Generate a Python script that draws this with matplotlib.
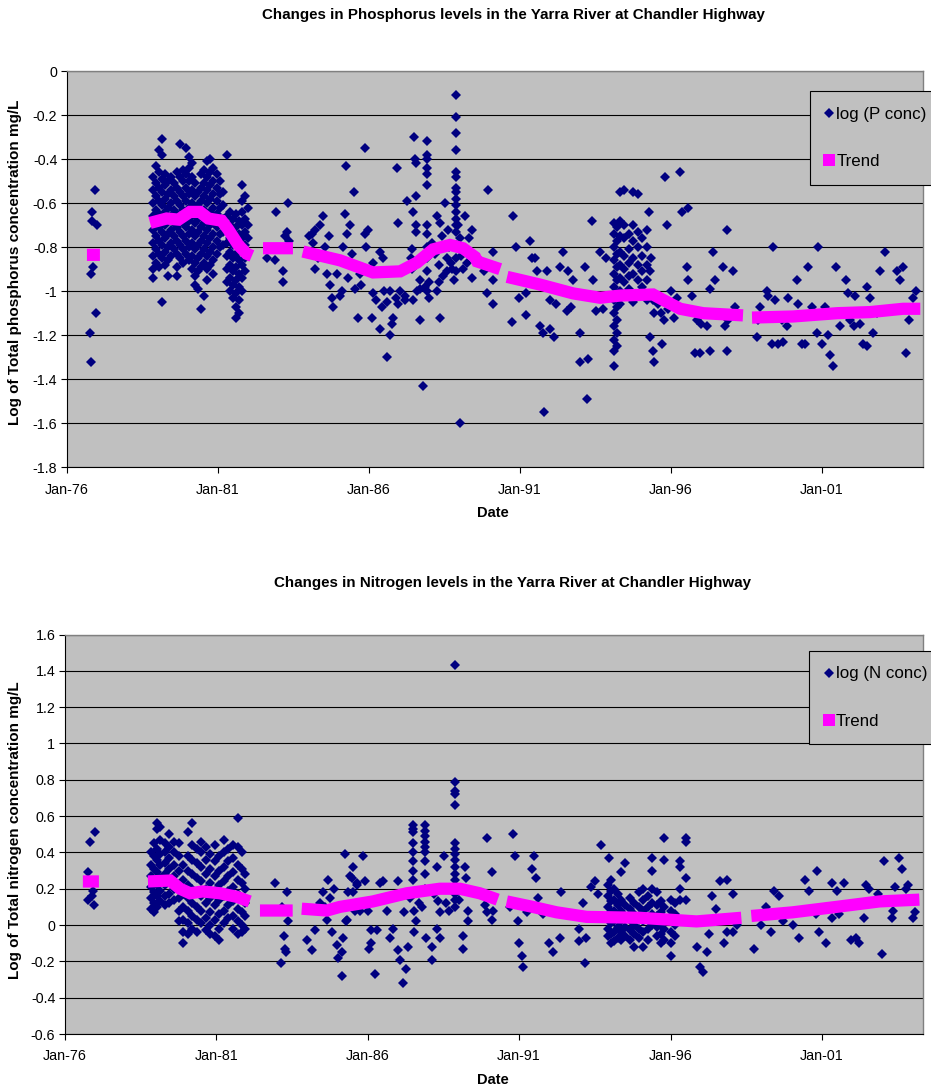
import matplotlib
matplotlib.use("Agg")
import matplotlib.pyplot as plt
from matplotlib.lines import Line2D
import numpy as np

# ---------------- data: phosphorus ----------------
nan = float("nan")

p_early = [(1976.93, -0.54), (1976.83, -0.64), (1976.83, -0.68), (1976.99, -0.70),
           (1976.86, -0.89), (1976.79, -0.92), (1976.96, -1.10), (1976.76, -1.19),
           (1976.79, -1.32)]

# dense 1979-82 samples, one column of values per date
p_col_dates = [1978.85, 1978.95, 1979.05, 1979.15, 1979.25, 1979.35, 1979.45, 1979.55,
               1979.65, 1979.75, 1979.85, 1979.95, 1980.05, 1980.15, 1980.25, 1980.35,
               1980.45, 1980.55, 1980.65, 1980.75, 1980.85, 1980.95, 1981.05, 1981.15,
               1981.3, 1981.4, 1981.5, 1981.6, 1981.7, 1981.8, 1981.9, 1982.0]
p_col_vals = [
    [-0.48, -0.54, -0.60, -0.66, -0.72, -0.78, -0.84, -0.90, -0.94],
    [-0.43, -0.51, -0.57, -0.63, -0.69, -0.75, -0.81, -0.87],
    [-0.36, -0.46, -0.53, -0.59, -0.65, -0.71, -0.77, -0.83, -0.89],
    [-0.31, -0.38, -0.49, -0.55, -0.61, -0.67, -0.73, -0.79, -0.85, -1.05],
    [-0.47, -0.52, -0.58, -0.64, -0.70, -0.76, -0.82, -0.88],
    [-0.50, -0.56, -0.62, -0.68, -0.74, -0.80, -0.86, -0.93],
    [-0.48, -0.54, -0.60, -0.66, -0.72, -0.78, -0.84],
    [-0.51, -0.57, -0.63, -0.69, -0.75, -0.81],
    [-0.46, -0.53, -0.59, -0.65, -0.71, -0.77, -0.83, -0.89, -0.93],
    [-0.33, -0.48, -0.55, -0.61, -0.67, -0.73, -0.79, -0.85],
    [-0.45, -0.50, -0.57, -0.63, -0.69, -0.75, -0.81, -0.87],
    [-0.35, -0.47, -0.53, -0.59, -0.65, -0.71, -0.77, -0.83],
    [-0.39, -0.44, -0.50, -0.56, -0.62, -0.68, -0.74, -0.80, -0.86],
    [-0.42, -0.48, -0.54, -0.60, -0.66, -0.72, -0.78, -0.84, -0.90],
    [-0.51, -0.57, -0.63, -0.69, -0.75, -0.81, -0.87, -0.93, -0.97],
    [-0.55, -0.61, -0.67, -0.73, -0.79, -0.85, -0.91, -0.99],
    [-0.47, -0.53, -0.59, -0.65, -0.71, -0.77, -0.83, -0.89, -1.08],
    [-0.45, -0.51, -0.57, -0.63, -0.69, -0.75, -0.81, -0.87, -1.02],
    [-0.41, -0.48, -0.54, -0.60, -0.66, -0.72, -0.78, -0.84, -0.90, -0.95],
    [-0.40, -0.46, -0.52, -0.58, -0.64, -0.70, -0.76, -0.82, -0.88],
    [-0.44, -0.50, -0.56, -0.62, -0.68, -0.74, -0.80, -0.86, -0.92],
    [-0.47, -0.53, -0.59, -0.65, -0.71, -0.77, -0.83],
    [-0.50, -0.56, -0.62, -0.68, -0.74, -0.80],
    [-0.55, -0.61, -0.67, -0.73, -0.79],
    [-0.38, -0.66, -0.72, -0.78, -0.84, -0.90, -0.96],
    [-0.64, -0.70, -0.76, -0.82, -0.88, -0.94, -1.00],
    [-0.67, -0.73, -0.79, -0.85, -0.91, -0.97, -1.03],
    [-0.65, -0.71, -0.77, -0.83, -0.89, -0.95, -1.01, -1.07, -1.12],
    [-0.68, -0.74, -0.80, -0.86, -0.92, -0.98, -1.04, -1.10],
    [-0.52, -0.59, -0.64, -0.70, -0.76, -0.82, -0.88, -0.94, -1.00],
    [-0.57, -0.67, -0.73, -0.79, -0.85, -0.91],
    [-0.62, -0.70, -0.76, -0.82],
]

p_mid = [(1982.62, -0.85), (1982.92, -0.64), (1982.89, -0.86), (1983.15, -0.96),
         (1983.15, -0.91), (1983.32, -0.60), (1983.28, -0.73), (1983.22, -0.75),
         (1983.35, -0.77), (1984.0, -0.75), (1984.11, -0.74), (1984.15, -0.78),
         (1984.2, -0.72), (1984.48, -0.66), (1984.38, -0.70), (1984.21, -0.90),
         (1984.3, -0.85), (1984.61, -0.92), (1984.71, -0.97), (1984.77, -1.03),
         (1984.81, -1.07), (1984.68, -0.75), (1984.55, -0.80), (1984.94, -0.92),
         (1985.11, -1.00), (1985.05, -1.02), (1985.21, -0.65), (1985.24, -0.43),
         (1985.14, -0.80), (1985.27, -0.74), (1985.37, -0.70), (1985.50, -0.55),
         (1985.44, -0.83), (1985.30, -0.94), (1985.54, -0.99), (1985.64, -1.12),
         (1985.87, -0.35), (1985.87, -0.74), (1985.95, -0.72), (1985.9, -0.80),
         (1985.7, -0.92), (1985.75, -0.97), (1986.1, -1.12), (1986.13, -0.87),
         (1986.13, -1.01), (1986.23, -1.04), (1986.36, -0.82), (1986.45, -0.85),
         (1986.43, -1.07), (1986.36, -1.17), (1986.6, -1.30), (1986.7, -1.20),
         (1986.75, -1.15), (1986.8, -1.12), (1986.5, -1.00), (1986.7, -1.00),
         (1986.93, -0.44), (1986.96, -0.69), (1987.03, -1.00), (1986.96, -1.06),
         (1987.19, -1.04), (1987.26, -0.59), (1987.46, -0.64), (1987.56, -0.57),
         (1987.5, -0.30), (1987.52, -0.40), (1987.56, -0.42), (1987.56, -0.70),
         (1987.56, -0.73), (1987.42, -0.81), (1987.38, -0.85), (1987.42, -0.90),
         (1987.46, -1.04), (1987.69, -1.13), (1987.79, -1.43), (1987.69, -0.95),
         (1987.92, -0.32), (1987.92, -0.38), (1987.92, -0.40), (1987.92, -0.44),
         (1987.92, -0.47), (1987.92, -0.52), (1987.92, -0.70), (1987.92, -0.74),
         (1987.92, -0.80), (1987.92, -0.85), (1987.92, -0.91), (1987.92, -1.00),
         (1988.0, -1.03), (1988.25, -0.66), (1988.25, -1.00), (1988.35, -1.12),
         (1988.35, -0.69), (1988.52, -0.60), (1988.57, -0.85), (1988.57, -0.91),
         (1988.1, -0.78), (1988.2, -0.83), (1988.3, -0.88), (1988.4, -0.75),
         (1988.45, -0.93), (1988.6, -0.72), (1988.65, -0.80), (1988.7, -0.87),
         (1988.75, -0.90), (1988.8, -0.95), (1988.95, -0.70), (1989.0, -0.76),
         (1989.05, -0.84), (1989.1, -0.90), (1988.3, -0.96), (1988.0, -0.96),
         (1987.85, -0.98), (1987.7, -0.99), (1987.6, -1.00), (1987.2, -1.02),
         (1986.9, -1.03), (1986.6, -1.05),
         (1988.88, -0.11), (1988.88, -0.21), (1988.88, -0.28), (1988.88, -0.36),
         (1988.88, -0.46), (1988.88, -0.48), (1988.88, -0.53), (1988.88, -0.55),
         (1988.88, -0.58), (1988.88, -0.61), (1988.88, -0.64), (1988.88, -0.67),
         (1988.88, -0.70), (1988.88, -0.73), (1988.88, -0.79), (1988.88, -0.85),
         (1988.88, -0.91), (1989.01, -1.60), (1989.18, -0.66), (1989.41, -0.72),
         (1989.3, -0.76), (1989.25, -0.87), (1989.41, -0.94), (1989.94, -0.54),
         (1989.8, -0.91), (1989.91, -1.01), (1990.11, -1.06), (1990.11, -0.82),
         (1990.11, -0.95), (1990.77, -0.66), (1990.74, -1.14), (1990.85, -0.80),
         (1990.97, -1.03), (1991.2, -1.01), (1991.2, -1.11), (1991.33, -0.77),
         (1991.4, -0.85), (1991.5, -0.85), (1991.55, -0.91), (1991.66, -1.16),
         (1991.75, -1.19), (1991.79, -1.55), (1991.88, -0.91), (1991.99, -1.04),
         (1992.0, -1.17), (1992.13, -1.21), (1992.32, -0.89), (1992.42, -0.82),
         (1992.2, -1.06), (1992.55, -1.09), (1992.6, -0.91), (1992.7, -1.07),
         (1992.75, -0.95), (1992.99, -1.19), (1992.99, -1.32), (1993.25, -1.31),
         (1993.22, -1.49), (1993.15, -0.89), (1993.38, -0.68), (1993.41, -0.95),
         (1993.52, -1.09), (1993.65, -0.82), (1993.75, -1.08), (1993.85, -0.85)]

p_col2_dates = [1994.1, 1994.2, 1994.3, 1994.45, 1994.6, 1994.75, 1994.9, 1995.05, 1995.2]
p_col2_vals = [
    [-0.69, -0.74, -0.80, -0.86, -0.92, -0.98, -1.04, -1.10, -1.16, -1.22, -1.27, -1.34],
    [-0.71, -0.77, -0.83, -0.89, -0.95, -1.01, -1.07, -1.13, -1.19, -1.25],
    [-0.55, -0.68, -0.75, -0.82, -0.88, -0.94, -1.00, -1.06],
    [-0.54, -0.70, -0.76, -0.84, -0.90, -0.96, -1.02],
    [-0.74, -0.81, -0.87, -0.93, -0.99],
    [-0.55, -0.70, -0.77, -0.85, -0.92, -1.05],
    [-0.56, -0.73, -0.80, -0.88, -0.95, -1.02],
    [-0.76, -0.84, -0.91, -0.98],
    [-0.72, -0.80, -0.88, -0.95, -1.04],
]

p_late = [(1995.28, -0.64), (1995.3, -1.21), (1995.4, -1.27), (1995.45, -1.32),
          (1995.45, -1.10), (1995.4, -1.04), (1995.35, -0.85), (1995.3, -0.91),
          (1995.8, -0.48), (1996.28, -0.46), (1995.86, -0.70), (1996.35, -0.64),
          (1996.57, -0.62), (1995.7, -1.24), (1995.55, -1.06), (1995.65, -1.10),
          (1995.75, -1.13), (1995.9, -1.08), (1996.0, -1.00), (1996.1, -1.12),
          (1996.2, -1.03), (1996.52, -0.89), (1996.57, -0.95), (1996.68, -1.02),
          (1996.85, -1.13), (1996.79, -1.28), (1996.95, -1.28), (1997.0, -1.15),
          (1997.18, -1.16), (1997.29, -1.27), (1997.29, -0.99), (1997.46, -0.95),
          (1997.39, -0.82), (1997.72, -0.89), (1997.85, -0.72), (1998.05, -0.91),
          (1997.79, -1.16), (1997.85, -1.27), (1997.9, -1.13), (1998.12, -1.07),
          (1998.84, -1.21), (1998.95, -1.07), (1998.88, -1.13), (1999.17, -1.00),
          (1999.2, -1.02), (1999.38, -0.80), (1999.33, -1.24), (1999.54, -1.24),
          (1999.71, -1.23), (1999.44, -1.04), (1999.66, -1.13), (1999.87, -1.03),
          (1999.83, -1.16), (2000.16, -0.95), (2000.2, -1.06), (2000.33, -1.24),
          (2000.44, -1.24), (2000.54, -0.89), (2000.66, -1.07), (2000.82, -1.19),
          (2000.88, -0.80), (2000.99, -1.24), (2001.1, -1.07), (2001.21, -1.20),
          (2001.26, -1.29), (2001.37, -1.34), (2001.46, -0.89), (2001.6, -1.16),
          (2001.65, -1.10), (2001.79, -0.95), (2001.87, -1.01), (2001.93, -1.13),
          (2002.04, -1.16), (2002.09, -1.02), (2002.26, -1.15), (2002.37, -1.24),
          (2002.48, -1.25), (2002.49, -0.98), (2002.59, -1.03), (2002.7, -1.19),
          (2002.92, -0.91), (2003.09, -0.82), (2002.81, -1.10), (2003.47, -0.91),
          (2003.67, -0.89), (2003.58, -0.95), (2003.78, -1.28), (2003.89, -1.13),
          (2004.02, -1.03), (2004.11, -1.00)]

p_trend_x = [1976.66, 1977.09, nan,
             1978.75, 1979.3, 1979.69, 1980.07, 1980.4, 1980.68, 1981.12, 1981.34,
             1981.67, 1981.95, 1982.12, nan,
             1982.49, 1983.48, nan,
             1983.81, 1985.04, 1986.13, 1987.03, 1987.59, 1988.12, 1988.68, 1989.11,
             1989.51, 1989.58, 1990.34, nan,
             1990.57, 1991.66, 1992.75, 1993.65, 1994.31, 1995.4, 1995.74, 1996.3,
             1997.06, 1998.38, nan,
             1998.68, 2000.04, 2001.5, 2002.59, 2003.68, 2004.25]
p_trend_y = [-0.835, -0.835, nan,
             -0.69, -0.67, -0.675, -0.64, -0.64, -0.67, -0.68, -0.72,
             -0.79, -0.83, -0.84, nan,
             -0.805, -0.805, nan,
             -0.82, -0.86, -0.915, -0.91, -0.87, -0.81, -0.79, -0.805,
             -0.845, -0.865, -0.90, nan,
             -0.935, -0.97, -1.01, -1.03, -1.02, -1.015, -1.04, -1.08,
             -1.10, -1.11, nan,
             -1.12, -1.115, -1.10, -1.095, -1.08, -1.08]

# ---------------- data: nitrogen ----------------
n_early = [(1976.99, 0.51), (1976.83, 0.46), (1976.76, 0.29), (1976.76, 0.14),
           (1976.92, 0.19), (1976.96, 0.11), (1976.88, 0.16)]

n_col_dates = [1978.85, 1978.95, 1979.05, 1979.15, 1979.3, 1979.45, 1979.6, 1979.75,
               1979.9, 1980.05, 1980.2, 1980.35, 1980.5, 1980.65, 1980.8, 1980.95,
               1981.1, 1981.25, 1981.4, 1981.55, 1981.7, 1981.85, 1981.95]
n_col_vals = [
    [0.40, 0.33, 0.27, 0.21, 0.15, 0.09],
    [0.45, 0.38, 0.31, 0.25, 0.18, 0.12, 0.07],
    [0.56, 0.53, 0.42, 0.36, 0.29, 0.22, 0.16, 0.10],
    [0.54, 0.47, 0.39, 0.33, 0.26, 0.19, 0.13],
    [0.45, 0.40, 0.34, 0.28, 0.22, 0.16, 0.11],
    [0.50, 0.43, 0.37, 0.31, 0.24, 0.17, 0.12],
    [0.46, 0.40, 0.33, 0.27, 0.20, 0.14],
    [0.45, 0.38, 0.30, 0.22, 0.15, 0.08, 0.02],
    [0.33, 0.25, 0.17, 0.10, 0.03, -0.04, -0.10],
    [0.51, 0.38, 0.30, 0.22, 0.15, 0.08, 0.01, -0.05],
    [0.56, 0.44, 0.36, 0.28, 0.20, 0.12, 0.05, -0.02],
    [0.42, 0.34, 0.26, 0.18, 0.10, 0.03, -0.04],
    [0.46, 0.40, 0.32, 0.24, 0.16, 0.08, 0.01],
    [0.43, 0.36, 0.28, 0.20, 0.12, 0.04, -0.03],
    [0.39, 0.31, 0.23, 0.15, 0.07, 0.00, -0.05],
    [0.44, 0.35, 0.27, 0.19, 0.11, 0.03, -0.06],
    [0.38, 0.30, 0.22, 0.14, 0.06, -0.02, -0.08],
    [0.47, 0.40, 0.32, 0.24, 0.16, 0.08, 0.01],
    [0.42, 0.35, 0.27, 0.19, 0.11, 0.04],
    [0.44, 0.37, 0.29, 0.21, 0.13, 0.05, -0.02],
    [0.59, 0.43, 0.33, 0.25, 0.17, 0.09, 0.02, -0.05],
    [0.40, 0.31, 0.23, 0.15, 0.07, 0.00, -0.04],
    [0.28, 0.20, 0.12, 0.05, -0.02],
]

n_mid = [(1982.93, 0.23), (1983.16, 0.10), (1983.33, 0.18), (1983.36, 0.02),
         (1983.23, -0.06), (1983.26, -0.13), (1983.29, -0.15), (1983.13, -0.21),
         (1983.99, -0.08), (1984.15, -0.14), (1984.25, -0.03), (1984.42, 0.12),
         (1984.51, 0.18), (1984.68, 0.25), (1984.65, 0.03), (1984.81, -0.04),
         (1984.98, -0.11), (1985.01, -0.18), (1985.14, -0.28), (1985.17, -0.07),
         (1985.24, 0.39), (1985.31, 0.03), (1985.34, 0.18), (1985.5, 0.32),
         (1985.47, 0.26), (1985.64, 0.23), (1984.6, 0.10), (1984.75, 0.15),
         (1984.9, 0.20), (1985.14, -0.15), (1985.29, 0.02), (1985.41, 0.27),
         (1985.52, 0.18), (1985.63, 0.22), (1985.57, 0.08), (1985.84, 0.38),
         (1985.9, 0.24), (1985.74, 0.08), (1986.0, 0.08), (1986.1, -0.03),
         (1986.3, -0.03), (1986.05, -0.13), (1986.1, -0.10), (1986.23, -0.27),
         (1986.4, 0.23), (1986.5, 0.24), (1986.63, 0.08), (1986.73, -0.07),
         (1986.82, -0.02), (1986.99, 0.24), (1986.99, -0.14), (1987.05, -0.19),
         (1987.16, -0.32), (1987.25, -0.24), (1987.2, 0.07), (1987.32, -0.12),
         (1987.49, 0.55), (1987.49, 0.53), (1987.49, 0.51), (1987.49, 0.45),
         (1987.49, 0.40), (1987.49, 0.35), (1987.49, 0.30), (1987.49, 0.25),
         (1987.54, 0.08), (1987.54, -0.04), (1987.6, 0.02), (1987.4, 0.15),
         (1987.7, 0.12), (1987.88, 0.55), (1987.88, 0.52), (1987.88, 0.49),
         (1987.88, 0.46), (1987.88, 0.43), (1987.88, 0.40), (1987.88, 0.35),
         (1987.88, 0.28), (1987.88, 0.20), (1987.8, 0.10), (1987.94, -0.07),
         (1988.11, -0.12), (1988.11, -0.19), (1988.28, 0.32), (1988.33, 0.13),
         (1988.38, 0.07), (1988.28, -0.02), (1988.38, -0.07), (1988.51, 0.38),
         (1988.2, 0.17), (1988.6, 0.12), (1988.7, 0.08), (1989.0, 0.14),
         (1988.87, 1.43), (1988.87, 0.79), (1988.87, 0.74), (1988.87, 0.72),
         (1988.87, 0.66), (1988.87, 0.45), (1988.87, 0.42), (1988.87, 0.39),
         (1988.87, 0.36), (1988.87, 0.32), (1988.87, 0.28), (1988.87, 0.25),
         (1988.87, 0.21), (1988.87, 0.17), (1988.87, 0.14), (1988.87, 0.10),
         (1989.2, 0.32), (1989.26, 0.26), (1989.14, -0.06), (1989.14, -0.13),
         (1989.3, 0.08), (1989.3, 0.02), (1989.93, 0.48), (1990.09, 0.29),
         (1989.88, 0.11), (1989.93, 0.07), (1990.09, 0.03), (1990.15, 0.08),
         (1990.79, 0.50), (1990.87, 0.38), (1990.7, 0.10), (1990.95, 0.02),
         (1990.98, -0.10), (1991.09, -0.17), (1991.14, -0.23), (1991.25, 0.07),
         (1991.48, 0.38), (1991.43, 0.31), (1991.56, 0.26), (1991.61, 0.15),
         (1991.78, 0.06), (1992.0, -0.10), (1992.11, -0.15), (1992.34, -0.07),
         (1992.39, 0.18), (1992.23, 0.07), (1992.56, 0.06), (1992.99, -0.02),
         (1992.97, -0.09), (1993.21, -0.07), (1993.19, -0.21), (1993.1, 0.12),
         (1993.39, 0.21), (1993.5, 0.24), (1993.61, 0.17), (1993.69, 0.44),
         (1993.96, 0.37)]

n_col2_dates = [1993.95, 1994.05, 1994.15, 1994.25, 1994.35, 1994.5, 1994.65, 1994.8,
                1994.95, 1995.1, 1995.25, 1995.4, 1995.55, 1995.7, 1995.8, 1996.0,
                1996.15, 1996.3, 1996.5]
n_col2_vals = [
    [0.22, 0.16, 0.10, 0.04, -0.02, -0.06],
    [0.25, 0.19, 0.13, 0.07, 0.01, -0.05, -0.10],
    [0.20, 0.14, 0.08, 0.02, -0.04, -0.09],
    [0.17, 0.11, 0.05, -0.01, -0.07],
    [0.29, 0.14, 0.08, 0.02, -0.04, -0.08],
    [0.34, 0.11, 0.05, -0.01, -0.06],
    [0.15, 0.09, 0.03, -0.03, -0.08],
    [0.12, 0.06, 0.00, -0.05, -0.12],
    [0.18, 0.10, 0.04, -0.02, -0.07],
    [0.20, 0.14, 0.08, 0.02, -0.04, -0.12],
    [0.16, 0.10, 0.04, -0.02, -0.08],
    [0.37, 0.30, 0.20, 0.12, 0.06, 0.00],
    [0.18, 0.11, 0.05, -0.01, -0.06],
    [0.13, 0.07, 0.01, -0.05, -0.10],
    [0.48, 0.36, 0.10, 0.04, -0.02, -0.08],
    [0.14, 0.08, 0.02, -0.04, -0.10, -0.17],
    [0.12, 0.06, 0.00, -0.06],
    [0.35, 0.32, 0.20, 0.14],
    [0.48, 0.46, 0.26, 0.14],
]

n_late = [(1996.89, -0.12), (1996.96, -0.23), (1997.06, -0.26), (1997.22, -0.15),
          (1997.28, -0.05), (1997.38, 0.16), (1997.62, 0.24), (1997.85, 0.25),
          (1997.51, 0.09), (1997.78, -0.10), (1997.85, -0.04), (1998.07, -0.04),
          (1998.07, 0.17), (1998.18, 0.00), (1998.77, -0.13), (1999.0, 0.00),
          (1999.17, 0.10), (1999.33, -0.04), (1999.43, 0.19), (1999.6, 0.16),
          (1999.7, 0.02), (2000.03, 0.00), (2000.26, -0.07), (2000.43, 0.25),
          (2000.59, 0.19), (2000.85, 0.30), (2000.81, 0.06), (2000.92, -0.04),
          (2001.14, -0.10), (2001.35, 0.23), (2001.51, 0.19), (2001.74, 0.23),
          (2001.57, 0.06), (2001.35, 0.04), (2001.96, -0.08), (2002.24, -0.10),
          (2002.13, -0.07), (2002.4, 0.04), (2002.46, 0.22), (2002.57, 0.20),
          (2002.84, 0.17), (2003.0, -0.16), (2003.06, 0.35), (2003.32, 0.04),
          (2003.36, 0.08), (2003.56, 0.37), (2003.66, 0.31), (2003.43, 0.21),
          (2003.78, 0.20), (2003.86, 0.22), (2004.0, 0.04), (2004.09, 0.07)]

n_trend_x = [1976.59, 1977.12, nan,
             1978.74, 1979.47, 1979.8, 1980.13, 1980.55, 1981.12, 1981.68, 1982.1, nan,
             1982.44, 1983.52, nan,
             1983.82, 1984.65, 1985.08, 1986.17, 1987.29, 1988.38, 1989.04, 1989.7,
             1990.29, nan,
             1990.59, 1991.45, 1992.24, 1993.23, 1994.98, 1996.86, 1998.34, nan,
             1998.67, 2000.03, 2001.48, 2002.9, 2004.22]
n_trend_y = [0.24, 0.24, nan,
             0.24, 0.245, 0.20, 0.175, 0.185, 0.175, 0.155, 0.13, nan,
             0.08, 0.08, nan,
             0.09, 0.08, 0.10, 0.13, 0.175, 0.20, 0.20, 0.175,
             0.14, nan,
             0.13, 0.10, 0.07, 0.045, 0.04, 0.02, 0.04, nan,
             0.05, 0.07, 0.10, 0.13, 0.14]

year_ticks = [1976, 1981, 1986, 1991, 1996, 2001]
year_labels = ["Jan-76", "Jan-81", "Jan-86", "Jan-91", "Jan-96", "Jan-01"]

# ---------------- styling ----------------
plt.rcParams["font.family"] = ["Liberation Sans", "DejaVu Sans"]
plt.rcParams["axes.unicode_minus"] = False

navy = "#000080"
pink = "#FF00FF"
bg = "#C0C0C0"
W, H = 931, 1091


def gather(points, col_dates, col_vals, mid, col2_dates, col2_vals, late):
    xs, ys = [], []
    for d, v in points + mid + late:
        xs.append(d)
        ys.append(v)
    for dates, vals in ((col_dates, col_vals), (col2_dates, col2_vals)):
        for d, col in zip(dates, vals):
            for v in col:
                xs.append(d)
                ys.append(v)
    return np.array(xs), np.array(ys)


def fmt(v, pos):
    return "%g" % (round(v, 1) + 0.0)


def style_axis(ax, ymin, ymax):
    ax.set_facecolor(bg)
    ax.set_xlim(1976.0, 2004.33)
    ax.set_ylim(ymin, ymax)
    ax.set_yticks(np.round(np.arange(ymin, ymax + 0.01, 0.2), 1))
    ax.yaxis.set_major_formatter(plt.FuncFormatter(fmt))
    ax.set_xticks(year_ticks)
    ax.set_xticklabels(year_labels)
    ax.grid(axis="y", color="black", linewidth=0.8)
    ax.set_axisbelow(True)
    ax.tick_params(axis="both", direction="out", length=4, width=0.8,
                   labelsize=10.3, colors="black")
    ax.tick_params(axis="x", pad=7)
    ax.tick_params(axis="y", pad=3)
    for s in ("top", "right"):
        ax.spines[s].set_color("#808080")
        ax.spines[s].set_linewidth(1.0)
    for s in ("left", "bottom"):
        ax.spines[s].set_color("black")
        ax.spines[s].set_linewidth(0.8)


fig = plt.figure(figsize=(W / 100, H / 100), dpi=100)
ax1 = fig.add_axes([67 / W, 1 - 467.3 / H, (922.7 - 67) / W, (467.3 - 71) / H])
ax2 = fig.add_axes([65 / W, 1 - 1034 / H, (922.7 - 65) / W, (1034 - 634.5) / H])

panels = [
    (ax1, gather(p_early, p_col_dates, p_col_vals, p_mid, p_col2_dates, p_col2_vals, p_late),
     (p_trend_x, p_trend_y), (-1.8, 0.0), "log (P conc)", (0.868, 0.949)),
    (ax2, gather(n_early, n_col_dates, n_col_vals, n_mid, n_col2_dates, n_col2_vals, n_late),
     (n_trend_x, n_trend_y), (-0.6, 1.6), "log (N conc)", (0.868, 0.959)),
]

for ax, (xs, ys), (tx, ty), (ymin, ymax), lab, anchor in panels:
    style_axis(ax, ymin, ymax)
    ax.plot(xs, ys, linestyle="none", marker="D", markersize=5.1,
            color=navy, markeredgewidth=0, zorder=3, clip_on=False)
    ax.plot(tx, ty, color=pink, linewidth=8.8, solid_capstyle="butt",
            solid_joinstyle="miter", zorder=4)
    handles = [Line2D([], [], linestyle="none", marker="D", markersize=5.5,
                      color=navy, markeredgewidth=0),
               Line2D([], [], linestyle="none", marker="s", markersize=8.5,
                      color=pink, markeredgewidth=0)]
    leg = ax.legend(handles, [lab, "Trend"], loc="upper left", bbox_to_anchor=anchor,
                    frameon=True, fancybox=False, framealpha=1, edgecolor="black",
                    facecolor=bg, fontsize=12.2, labelspacing=1.9, handlelength=0.45,
                    handletextpad=0.2, borderpad=0.92, borderaxespad=0)
    leg.get_frame().set_linewidth(0.8)

fig.text(513 / W, 1 - 15 / H, "Changes in Phosphorus levels in the Yarra River at Chandler Highway",
         ha="center", va="center", fontsize=10.9, fontweight="bold")
fig.text(513 / W, 1 - 583 / H, "Changes in Nitrogen levels in the Yarra River at Chandler Highway",
         ha="center", va="center", fontsize=10.9, fontweight="bold")
fig.text(493 / W, 1 - 513 / H, "Date", ha="center", va="center", fontsize=10.5, fontweight="bold")
fig.text(493 / W, 1 - 1080 / H, "Date", ha="center", va="center", fontsize=10.5, fontweight="bold")
fig.text(15 / W, 1 - 262 / H, "Log of Total phosphorus concentration mg/L", rotation=90,
         ha="center", va="center", fontsize=11, fontweight="bold")
fig.text(15 / W, 1 - 830 / H, "Log of Total nitrogen concentration mg/L", rotation=90,
         ha="center", va="center", fontsize=11, fontweight="bold")

fig.savefig("out.png", dpi=100, facecolor="white")
